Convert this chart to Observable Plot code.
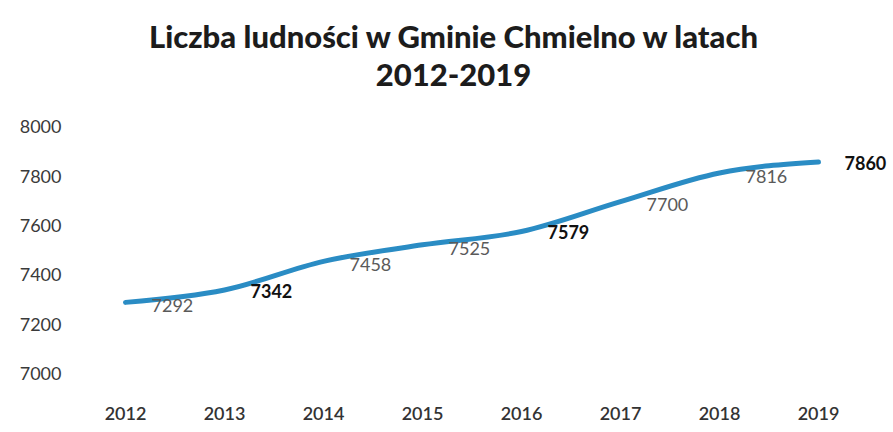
<!DOCTYPE html>
<html>
<head>
<meta charset="utf-8">
<script src="https://cdn.jsdelivr.net/npm/d3@7"></script>
<script src="https://cdn.jsdelivr.net/npm/@observablehq/plot@0.6"></script>
<style>
  html, body { margin: 0; padding: 0; background: #ffffff; }
  #wrap { width: 893px; height: 432px; overflow: hidden; }
  #title {
    width: 893px; height: 100px; box-sizing: border-box;
    padding-top: 17px; padding-left: 14px;
    font-family: Lato, "Open Sans", sans-serif; font-weight: 900;
    font-size: 31px; line-height: 38px; text-align: center; color: #1c1c1c;
  }
</style>
</head>
<body>
<div id="wrap">
  <div id="title">Liczba ludności w Gminie Chmielno w latach<br>2012-2019</div>
  <div id="chart"></div>
</div>
<script>
const years = ["2012", "2013", "2014", "2015", "2016", "2017", "2018", "2019"];
const population = [7292, 7342, 7458, 7525, 7579, 7700, 7816, 7860];
const yTicks = [7000, 7200, 7400, 7600, 7800, 8000];

const data = years.map((year, i) => ({year, value: population[i]}));
const darkLabels = new Set(["2013", "2016", "2019"]);

const chart = Plot.plot({
  width: 893,
  height: 332,
  marginTop: 27,
  marginBottom: 58,
  marginLeft: 122,
  marginRight: 72,
  style: {fontFamily: "Lato, 'Open Sans', sans-serif", fontSize: "18px", background: "#ffffff"},
  x: {type: "point", domain: years, padding: 0, label: null},
  y: {domain: [7000, 8000], label: null},
  marks: [
    Plot.axisY({ticks: yTicks, tickFormat: d3.format("d"), tickSize: 0, tickPadding: 61, label: null, fill: "#3a3a3a", fontSize: 18}),
    Plot.axisX({tickSize: 0, tickPadding: 33, label: null, fill: "#333333", fontSize: 18, fontWeight: 600}),
    Plot.line(data, {x: "year", y: "value", stroke: "#2a8cc4", strokeWidth: 5, curve: "monotone-x"}),
    Plot.text(data.filter(d => !darkLabels.has(d.year)), {
      x: "year", y: "value", text: d => String(d.value),
      textAnchor: "start", dx: 26, dy: 4, fill: "#5a5a5a", fontSize: 18
    }),
    Plot.text(data.filter(d => darkLabels.has(d.year)), {
      x: "year", y: "value", text: d => String(d.value),
      textAnchor: "start", dx: 26, dy: 2, fill: "#111111", fontSize: 18, fontWeight: 700
    })
  ]
});
document.getElementById("chart").appendChild(chart);
</script>
</body>
</html>
